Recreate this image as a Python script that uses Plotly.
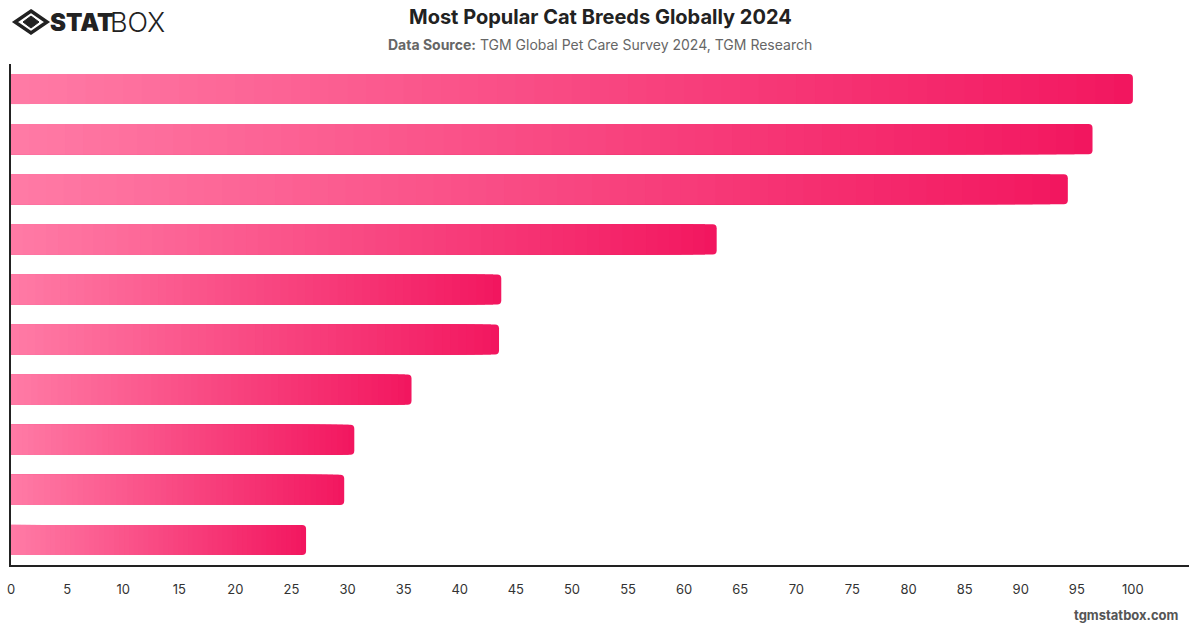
import plotly.graph_objects as go

# ---- data ----
categories = ["Breed 1", "Breed 2", "Breed 3", "Breed 4", "Breed 5",
              "Breed 6", "Breed 7", "Breed 8", "Breed 9", "Breed 10"]
values = [100, 96.4, 94.2, 62.9, 43.7, 43.5, 35.7, 30.6, 29.7, 26.3]
x_ticks = list(range(0, 101, 5))

# ---- style ----
left_rgb = (255, 122, 165)
right_rgb = (242, 22, 95)
N_STEPS = 60


def mix(t):
    r = round(left_rgb[0] + (right_rgb[0] - left_rgb[0]) * t)
    g = round(left_rgb[1] + (right_rgb[1] - left_rgb[1]) * t)
    b = round(left_rgb[2] + (right_rgb[2] - left_rgb[2]) * t)
    return f"rgb({r},{g},{b})"


fig = go.Figure()

# full-length base bar (darkest colour, rounded end)
fig.add_trace(go.Bar(
    y=categories, x=values, orientation="h",
    marker=dict(color=mix(1.0), cornerradius=4, line=dict(width=0)),
    width=0.6, hoverinfo="x+y", showlegend=False,
))
# overlaid shorter bars give a per-bar left-to-right gradient
for k in range(1, N_STEPS):
    frac = (N_STEPS - k) / N_STEPS
    fig.add_trace(go.Bar(
        y=categories, x=[v * frac for v in values], orientation="h",
        marker=dict(color=mix(frac - 1.0 / N_STEPS), line=dict(width=0)),
        width=0.6, hoverinfo="skip", showlegend=False,
    ))

W, H = 1200, 628
ml, mr, mt, mb = 11, 11, 64, 63

fig.update_layout(
    width=W, height=H,
    barmode="overlay",
    paper_bgcolor="white", plot_bgcolor="white",
    margin=dict(l=ml, r=mr, t=mt, b=mb, autoexpand=False),
    font=dict(family="Inter, Roboto, sans-serif", color="#333"),
    xaxis=dict(
        range=[0, 105], tickvals=x_ticks, ticks="", showgrid=False,
        zeroline=False, showline=True, linecolor="#222", linewidth=1.5,
        tickfont=dict(size=13, color="#333"), ticklabelstandoff=12,
        fixedrange=True, automargin=False,
    ),
    yaxis=dict(
        autorange="reversed", showticklabels=False, ticks="",
        showgrid=False, zeroline=False, showline=True, linecolor="#222",
        linewidth=1.5, fixedrange=True, automargin=False,
    ),
)

pw, ph = W - ml - mr, H - mt - mb


def px2paper(x, y):
    return (x - ml) / pw, (H - mb - y) / ph


def ann(text, x, y, font, xanchor="center"):
    X, Y = px2paper(x, y)
    return dict(text=text, x=X, y=Y, xref="paper", yref="paper",
                showarrow=False, xanchor=xanchor, yanchor="middle", font=font,
                borderpad=0)


annotations = [
    ann("<b>Most Popular Cat Breeds Globally 2024</b>", 600, 17,
        dict(size=20, color="#222")),
    ann("<b>Data Source:</b> TGM Global Pet Care Survey 2024, TGM Research",
        600, 44, dict(size=14, color="#666")),
    ann("tgmstatbox.com", 1180, 615,
        dict(size=13, color="#555", weight="bold"), xanchor="right"),
    ann("STAT", 49, 22, dict(size=24, color="#222", weight=900,
                             family="Inter, sans-serif"), xanchor="left"),
    ann("BOX", 166, 22, dict(size=27, color="#222", weight=300,
                             family="Inter, sans-serif"), xanchor="right"),
]

# logo icon: outer diamond outline + inner diamond
cx, cy = 31, 22
pts_outer = [(cx, cy - 11), (cx + 16, cy), (cx, cy + 11), (cx - 16, cy)]
pts_inner = [(cx, cy - 6), (cx + 8, cy), (cx, cy + 6), (cx - 8, cy)]


def path(pts):
    s = ""
    for i, (x, y) in enumerate(pts):
        X, Y = px2paper(x, y)
        s += ("M" if i == 0 else "L") + f"{X},{Y} "
    return s + "Z"


fig.update_layout(
    annotations=annotations,
    shapes=[
        dict(type="path", path=path(pts_outer), xref="paper", yref="paper",
             line=dict(color="#222", width=3.5), fillcolor="rgba(0,0,0,0)"),
        dict(type="path", path=path(pts_inner), xref="paper", yref="paper",
             line=dict(color="#222", width=1), fillcolor="#222"),
    ],
)

fig.write_html("out.html", config={"displayModeBar": False})
